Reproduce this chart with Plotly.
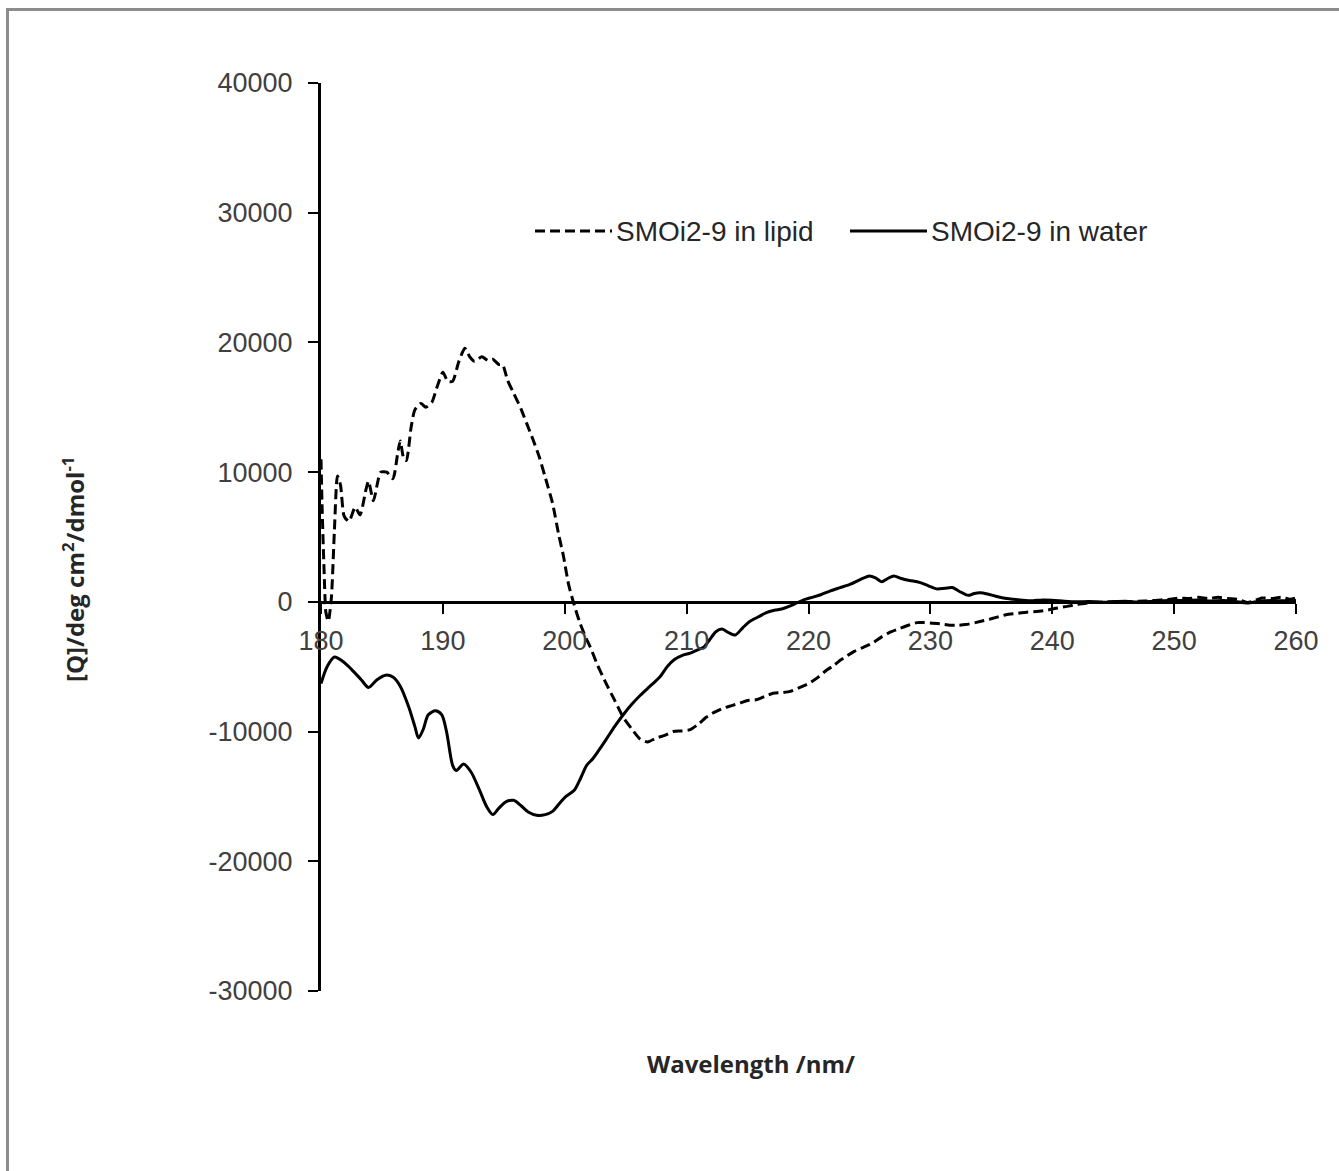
import plotly.graph_objects as go

# ---------------- data ----------------
lipid_wl = [180.0, 180.1, 180.25, 180.4, 180.6, 180.85, 181.1, 181.35, 181.6, 181.9, 182.3, 182.8, 183.2, 183.7,
            183.9, 184.3, 184.9, 185.4, 185.9, 186.3, 186.5, 186.8, 187.0, 187.4, 187.7, 188.2, 188.6, 189.1,
            189.5, 190.0, 190.4, 190.8, 191.3, 191.8, 192.2, 192.6, 193.2, 193.7, 194.1, 194.6, 194.9, 195.3,
            195.8, 196.4, 196.9, 197.4, 197.9, 198.4, 199.0, 199.5, 199.9, 200.3, 200.7, 201.2, 201.7, 202.1,
            202.7, 203.4, 204.1, 204.8, 205.5, 206.2, 206.8, 207.5, 208.2, 208.9, 209.6, 210.3, 211.0, 211.6,
            212.3, 213.0, 213.7, 214.4, 215.0, 215.7, 216.4, 217.1, 217.8, 218.5, 219.3, 220.1, 220.8, 221.5,
            222.1, 222.6, 223.1, 223.8, 224.5, 225.3, 226.0, 226.8, 227.5, 228.2, 228.9, 229.5, 230.2, 230.9,
            231.6, 232.3, 232.9, 233.7, 234.6, 235.4, 236.2, 237.0, 237.9, 238.7, 239.5, 240.3, 241.2, 242.0,
            242.8, 243.7, 244.5, 245.3, 246.2, 247.1, 248.0, 248.9, 249.7, 250.4, 251.2, 252.0, 252.8, 253.6,
            254.4, 255.2, 256.0, 256.5, 257.2, 258.0, 258.8, 259.5, 260.0]
lipid_val = [11000, 7000, 2500, -800, -1500, 300, 5500, 9700, 9000, 6600, 6200, 7300, 6700, 8700,
             9300, 7800, 10000, 10000, 9500, 11500, 12400, 11000, 10900, 13500, 14800, 15300, 15000, 15400,
             16500, 17700, 17000, 17000, 18500, 19550, 18900, 18550, 18900, 18600, 18700, 18300, 18300, 17100,
             16100, 14900, 13700, 12500, 11200, 9600, 7600, 5200, 3500, 1400, 0, -1500, -2700, -3500,
             -4900, -6300, -7600, -8900, -9800, -10600, -10800, -10500, -10300, -10000, -9950, -9850, -9400, -8900,
             -8500, -8200, -8000, -7800, -7600, -7550, -7300, -7050, -7000, -6900, -6600, -6250, -5800, -5250,
             -4900, -4500, -4200, -3800, -3500, -3150, -2700, -2300, -2050, -1800, -1600, -1600, -1650, -1700,
             -1800, -1800, -1750, -1600, -1400, -1200, -1000, -900, -800, -750, -650, -500, -350, -200,
             -100, -30, 0, 20, 10, 50, 80, 150, 200, 300, 250, 350, 250, 350,
             250, 200, -50, 50, 300, 250, 350, 200, 300]

water_wl = [180.0, 180.5, 181.1, 181.8, 182.5, 183.3, 183.9, 184.6, 185.3, 185.9, 186.5, 187.2, 187.7, 188.0,
            188.4, 188.8, 189.4, 189.9, 190.3, 190.8, 191.1, 191.7, 192.3, 193.0, 193.6, 194.1, 194.6, 195.2,
            195.8, 196.4, 197.0, 197.7, 198.4, 199.0, 199.6, 200.1, 200.8, 201.3, 201.8, 202.3, 202.9, 203.4,
            204.1, 204.8, 205.5, 206.2, 207.0, 207.8, 208.4, 209.0, 209.7, 210.3, 210.9, 211.4, 211.9, 212.4,
            212.9, 213.5, 214.0, 214.6, 215.2, 215.9, 216.5, 217.2, 217.8, 218.4, 219.0, 219.6, 220.3, 221.0,
            221.8, 222.6, 223.4, 224.2, 225.0, 225.5, 226.0, 226.5, 227.0, 227.6, 228.3, 229.1, 229.8, 230.5,
            231.2, 231.8, 232.4, 233.1, 233.6, 234.1, 234.7, 235.3, 236.0, 236.8, 237.6, 238.4, 239.2, 240.0,
            241.0, 242.0, 243.0, 244.0, 245.0, 246.0, 247.0, 248.0, 249.0, 250.0, 251.0, 252.0, 253.0, 254.0,
            255.0, 256.0, 257.0, 258.0, 259.0, 260.0]
water_val = [-6300, -5000, -4250, -4600, -5200, -6000, -6600, -6000, -5650, -5800, -6500, -8100, -9600, -10500,
             -9800, -8700, -8400, -8700, -10000, -12600, -13000, -12500, -13100, -14500, -15800, -16400, -15900, -15400,
             -15300, -15700, -16200, -16450, -16400, -16150, -15500, -15000, -14500, -13600, -12600, -12100, -11300, -10600,
             -9600, -8700, -7900, -7200, -6500, -5800, -5000, -4450, -4100, -3950, -3700, -3500, -2900, -2300,
             -2100, -2400, -2550, -2000, -1500, -1150, -850, -650, -550, -350, -100, 150, 350, 550,
             850, 1100, 1350, 1700, 2000, 1850, 1550, 1800, 2000, 1800, 1650, 1500, 1250, 1000,
             1050, 1100, 800, 500, 650, 700, 600, 450, 300, 200, 120, 80, 150, 130,
             50, 0, 30, -30, 0, 50, -20, 30, 80, 120, 100, 150, 60, 100,
             30, -80, 50, 100, 80, 100]

series_names = ["SMOi2-9 in lipid", "SMOi2-9 in water"]

x_ticks = [180, 190, 200, 210, 220, 230, 240, 250, 260]
x_ticklabels = ["180", "190", "200", "210", "220", "230", "240", "250", "260"]
y_ticks = [-30000, -20000, -10000, 0, 10000, 20000, 30000, 40000]
y_ticklabels = ["-30000", "-20000", "-10000", "0", "10000", "20000", "30000", "40000"]

x_title = "Wavelength /nm/"
y_title = "[Q]/deg cm<sup>2</sup>/dmol<sup>-1</sup>"

# ---------------- layout geometry (pixels) ----------------
W, H = 1339, 1171
L, R, T, B = 321, 1296, 83, 991


def px(xp):
    return (xp - L) / (R - L)


def py(yp):
    return (B - yp) / (B - T)


fig = go.Figure()
fig.add_trace(go.Scatter(
    x=lipid_wl, y=lipid_val, mode="lines", name=series_names[0], showlegend=False,
    line=dict(color="black", width=3, dash="10px,5px", shape="spline", smoothing=0.6),
))
fig.add_trace(go.Scatter(
    x=water_wl, y=water_val, mode="lines", name=series_names[1], showlegend=False,
    line=dict(color="black", width=3, shape="spline", smoothing=0.8),
))

tick_font = dict(family="Liberation Sans, Arial, sans-serif", size=27, color="#404040")
zero_frac = (0 - y_ticks[0]) / (y_ticks[-1] - y_ticks[0])

fig.update_layout(
    width=W, height=H,
    margin=dict(l=L, r=W - R, t=T, b=H - B, pad=0),
    paper_bgcolor="white", plot_bgcolor="white",
    xaxis=dict(
        range=[180, 260], tickvals=x_ticks, ticktext=x_ticklabels,
        ticks="outside", ticklen=10, tickwidth=2, tickcolor="black",
        showline=True, linewidth=3, linecolor="black",
        showgrid=False, zeroline=False,
        anchor="free", position=zero_frac, side="bottom",
        tickfont=tick_font, ticklabelstandoff=4,
    ),
    yaxis=dict(
        range=[y_ticks[0], y_ticks[-1]], tickvals=y_ticks, ticktext=y_ticklabels,
        ticks="outside", ticklen=10, tickwidth=2, tickcolor="black",
        showline=True, linewidth=3, linecolor="black",
        showgrid=False, zeroline=False, domain=[0, 1],
        tickfont=tick_font, ticklabelstandoff=10,
    ),
)

legend_font = dict(family="Liberation Sans, Arial, sans-serif", size=28, color="#262626")
title_font = dict(family="Open Sans, sans-serif", size=24, color="#262626")

shapes = [
    # outer frame (left and top edges)
    dict(type="line", xref="paper", yref="paper", x0=px(7.5), x1=px(7.5), y0=py(9), y1=py(H + 5),
         line=dict(color="#8c8c8c", width=3)),
    dict(type="line", xref="paper", yref="paper", x0=px(6), x1=px(W + 5), y0=py(9.5), y1=py(9.5),
         line=dict(color="#8c8c8c", width=3)),
    # legend samples
    dict(type="line", xref="paper", yref="paper", x0=px(535), x1=px(612), y0=py(231), y1=py(231),
         line=dict(color="black", width=3, dash="10px,5px")),
    dict(type="line", xref="paper", yref="paper", x0=px(850), x1=px(927), y0=py(231), y1=py(231),
         line=dict(color="black", width=3)),
]

annotations = [
    dict(text=series_names[0], xref="paper", yref="paper", x=px(614), y=py(231),
         xanchor="left", yanchor="middle", showarrow=False, font=legend_font),
    dict(text=series_names[1], xref="paper", yref="paper", x=px(929), y=py(231),
         xanchor="left", yanchor="middle", showarrow=False, font=legend_font),
    dict(text="<b>" + x_title + "</b>", xref="paper", yref="paper", x=px(751), y=py(1063),
         xanchor="center", yanchor="middle", showarrow=False, font=title_font),
    dict(text="<b>" + y_title + "</b>", xref="paper", yref="paper", x=px(73), y=py(570),
         xanchor="center", yanchor="middle", showarrow=False, textangle=-90, font=title_font),
]

fig.update_layout(shapes=shapes, annotations=annotations)

fig.write_html("out.html", config={"displayModeBar": False},
               post_script="document.body.style.margin='0px';")
